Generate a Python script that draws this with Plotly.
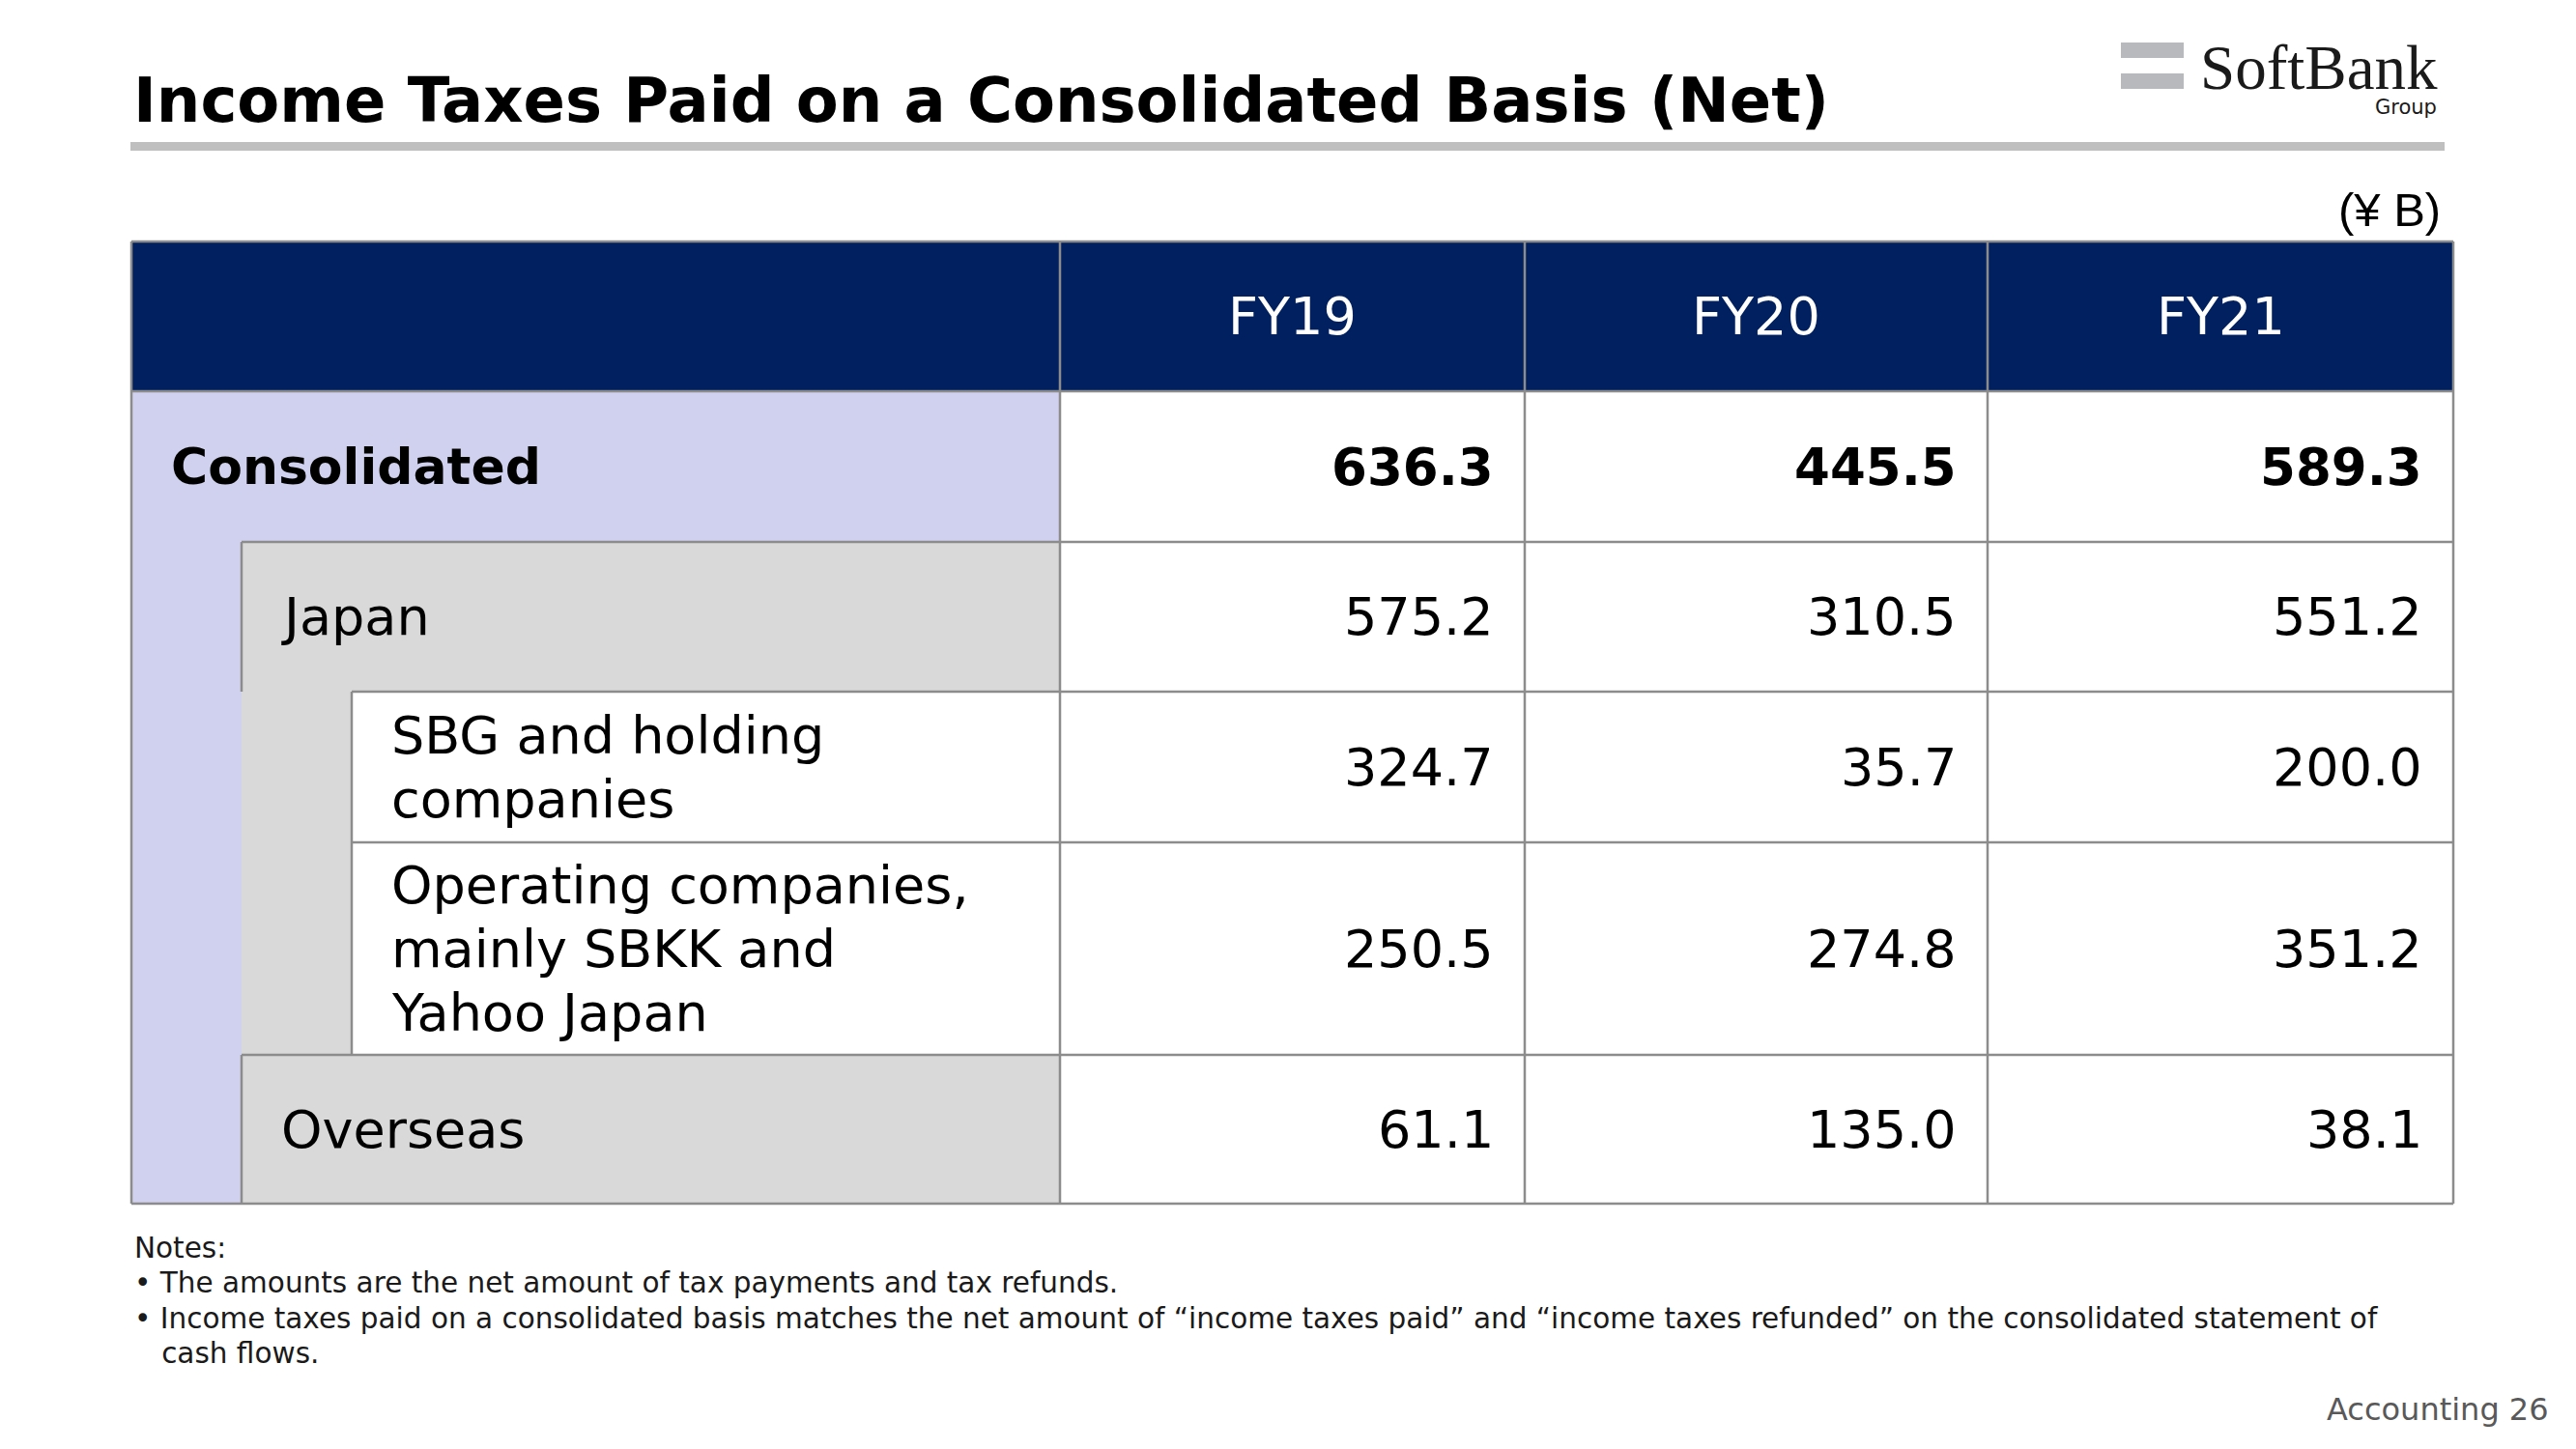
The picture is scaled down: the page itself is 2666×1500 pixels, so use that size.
import plotly.graph_objects as go

# ---------------- data ----------------
years = ["FY19", "FY20", "FY21"]
row_labels = [
    "Consolidated",
    "Japan",
    "SBG and holding<br>companies",
    "Operating companies,<br>mainly SBKK and<br>Yahoo Japan",
    "Overseas",
]
row_levels = [0, 1, 2, 2, 1]
consolidated = [636.3, 445.5, 589.3]
japan = [575.2, 310.5, 551.2]
sbg_holding = [324.7, 35.7, 200.0]
operating = [250.5, 274.8, 351.2]
overseas = [61.1, 135.0, 38.1]
row_values = [consolidated, japan, sbg_holding, operating, overseas]

title = "Income Taxes Paid on a Consolidated Basis (Net)"
unit = "(¥ B)"
notes = [
    "Notes:",
    "• The amounts are the net amount of tax payments and tax refunds.",
    "• Income taxes paid on a consolidated basis matches the net amount of “income taxes paid” and “income taxes refunded” on the consolidated statement of",
    "   cash flows.",
]
page_label = "Accounting 26"

# ---------------- layout / style ----------------
W, H = 2666, 1500
FONT = "DejaVu Sans"
NAVY = "#002060"
LAV = "#CFD1EE"
GRAY = "#D9D9D9"
LINE = "#8C8C8C"

col_edges = [136, 1097, 1578, 2057, 2539]
row_edges = [250, 405, 561, 716, 872, 1092, 1246]
indent_x = [136, 250, 364]
label_pad = 39
value_pad = 30
line_gap = 66

fig = go.Figure()
shapes = []
ann = []


def rect(x0, y0, x1, y1, color):
    shapes.append(dict(type="rect", xref="x", yref="y", x0=x0, y0=y0, x1=x1, y1=y1,
                       fillcolor=color, line=dict(width=0), layer="below"))


def line(x0, y0, x1, y1, color=LINE, w=2.5):
    shapes.append(dict(type="line", xref="x", yref="y", x0=x0, y0=y0, x1=x1, y1=y1,
                       line=dict(color=color, width=w), layer="above"))


def text(x, y, s, size, color="#000000", xanchor="left", bold=False, family=FONT, **kw):
    if bold:
        s = "<b>" + s + "</b>"
    ann.append(dict(x=x, y=y, xref="x", yref="y", text=s, showarrow=False,
                    xanchor=xanchor, yanchor="middle",
                    font=dict(family=family, size=size, color=color), **kw))


# title and rule
text(136, 104, title, 64, bold=True)
rect(135, 147, 2530, 156, "#BFBFBF")

# logo
rect(2195, 44, 2260, 60, "#B7B9BC")
rect(2195, 76, 2260, 92, "#B7B9BC")
text(2525, 70, "SoftBank", 65, color="#1A1A1A", xanchor="right", family="Liberation Serif")
text(2524, 111, "Group", 21, color="#1A1A1A", xanchor="right", family="DejaVu Sans")

# unit
text(2528, 217, unit, 49, xanchor="right", family="Liberation Sans")

# header row
top, hb = row_edges[0], row_edges[1]
rect(col_edges[0], top, col_edges[-1], hb, NAVY)
for i, y in enumerate(years):
    cx = (col_edges[i + 1] + col_edges[i + 2]) / 2
    text(cx, (top + hb) / 2, y, 54, color="#FFFFFF", xanchor="center")

# body backgrounds
bottom = row_edges[-1]
rect(col_edges[1], hb, col_edges[-1], bottom, "#FFFFFF")
for r, lvl in enumerate(row_levels):
    y0, y1 = row_edges[r + 1], row_edges[r + 2]
    fill = [LAV, GRAY, "#FFFFFF"][lvl]
    rect(indent_x[lvl], y0, col_edges[1], y1, fill)
    for p in range(lvl):
        rect(indent_x[p], y0, indent_x[p + 1], y1, [LAV, GRAY][p])

# grid lines
line(col_edges[0], top, col_edges[-1], top)
line(col_edges[0], bottom, col_edges[-1], bottom)
for x in col_edges:
    line(x, top, x, bottom)
for r, lvl in enumerate(row_levels):
    y0, y1 = row_edges[r + 1], row_edges[r + 2]
    line(indent_x[lvl], y0, col_edges[-1], y0)
    if lvl > 0:
        line(indent_x[lvl], y0, indent_x[lvl], y1)

# body text
for r, (lab, lvl, vals) in enumerate(zip(row_labels, row_levels, row_values)):
    y0, y1 = row_edges[r + 1], row_edges[r + 2]
    cy = (y0 + y1) / 2
    bold = lvl == 0
    parts = lab.split("<br>")
    n = len(parts)
    for k, part in enumerate(parts):
        ly = cy + (k - (n - 1) / 2) * line_gap
        text(indent_x[lvl] + label_pad, ly, part, 52 if bold else 54, bold=bold)
    for i, v in enumerate(vals):
        text(col_edges[i + 2] - value_pad, cy, f"{v:.1f}", 53 if bold else 54,
             xanchor="right", bold=bold)

# notes
note_y = [1292, 1328, 1365, 1401]
for s, y in zip(notes, note_y):
    text(137, y, s, 29.5, color="#1A1A1A")

text(2640, 1459, page_label, 32, color="#595959", xanchor="right")

fig.add_trace(go.Scatter(x=[0, W], y=[0, H], mode="markers",
                         marker=dict(opacity=0), hoverinfo="skip", showlegend=False))

fig.update_layout(
    width=W, height=H,
    margin=dict(l=0, r=0, t=0, b=0),
    paper_bgcolor="#FFFFFF", plot_bgcolor="#FFFFFF",
    xaxis=dict(range=[0, W], visible=False, fixedrange=True),
    yaxis=dict(range=[H, 0], visible=False, fixedrange=True),
    shapes=shapes, annotations=ann, showlegend=False,
)

fig.write_html("out.html", config={"displayModeBar": False, "staticPlot": True},
               post_script="document.body.style.margin='0';document.body.style.overflow='hidden';")
